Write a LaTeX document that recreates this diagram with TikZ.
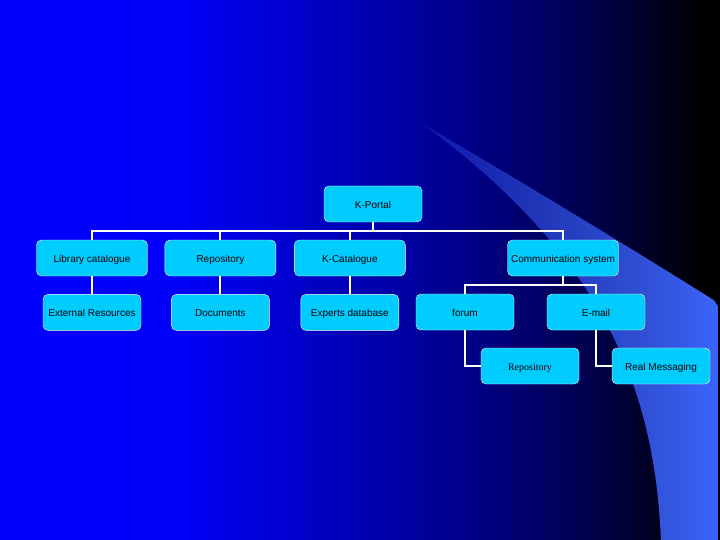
\documentclass[tikz,border=0pt]{standalone}
\usepackage{fontspec}
\setsansfont{Liberation Sans}
\setmainfont{Liberation Serif}
\definecolor{swooshblue}{RGB}{60,100,255}
\definecolor{boxcyan}{RGB}{0,204,255}
\tikzset{every picture/.style={/utils/exec={\sffamily}}}
\usetikzlibrary{calc}
\usetikzlibrary{positioning}
\usetikzlibrary{fadings}

\pgfdeclarehorizontalshading{slidebg}{100bp}{
  rgb(0bp)=(0,0,1); rgb(25bp)=(0,0,1); rgb(37.5bp)=(0,0,0.97);
  rgb(57bp)=(0,0,0.55); rgb(66.7bp)=(0,0,0.28); rgb(73.6bp)=(0,0,0);
  rgb(100bp)=(0,0,0)}
\tikzfading[name=tipfade, left color=transparent!75, middle color=transparent!5, right color=transparent!0]

\begin{document}
\begin{tikzpicture}[x=1pt, y=-1pt,
    box/.style={draw=white, fill=boxcyan, rounded corners=5pt, text=black,
      font=\fontsize{10}{12}\selectfont, minimum height=36pt, inner sep=2pt,
      text depth=0pt, text height=8pt},
    wide/.style={box, minimum width=111pt},
    narrow/.style={box, minimum width=98pt},
    link/.style={draw=white, line width=2pt}]

  % slide background
  \shade[shading=slidebg] (0,0) rectangle (720,540);
  \fill[swooshblue, path fading=tipfade]
    (423,124) .. controls (540,192) and (650,260) .. (714,300)
    -- (718,306) -- (718,540) -- (661,540)
    .. controls (655,400) and (612,262) .. (423,124);
  \useasboundingbox (0,0) rectangle (720,540);

  \node [box, minimum width=98pt] (portal) at (373,204) {K-Portal};

  \node [wide] (lib) at (92,258) {Library catalogue};
  \node [wide, right=17pt of lib] (repo) {Repository};
  \node [wide, right=18pt of repo] (kcat) {K-Catalogue};
  \node [wide] (comm) at (563,258) {Communication system};

  \node [narrow, below=18pt of lib] (ext) {External Resources};
  \node [narrow, below=18pt of repo] (docs) {Documents};
  \node [narrow, below=18pt of kcat] (experts) {Experts database};
  \node [narrow] (forum) at (465,312) {forum};
  \node [narrow] (email) at (596,312) {E-mail};

  \node [narrow, font=\rmfamily\fontsize{10}{12}\selectfont] (frepo) at (530,366) {Repository};
  \node [narrow] (realmsg) at (661,366) {Real Messaging};

  \foreach \n in {lib,repo,kcat,comm}
    \draw [link] (portal.south) -- ++(0,9) -| (\n.north);
  \draw [link] (lib) -- (ext);
  \draw [link] (repo) -- (docs);
  \draw [link] (kcat) -- (experts);
  \foreach \n in {forum,email}
    \draw [link] (comm.south) -- ++(0,9) -| (\n.north);
  \draw [link] (forum.south) |- (frepo.west);
  \draw [link] (email.south) |- (realmsg.west);

\end{tikzpicture}
\end{document}
